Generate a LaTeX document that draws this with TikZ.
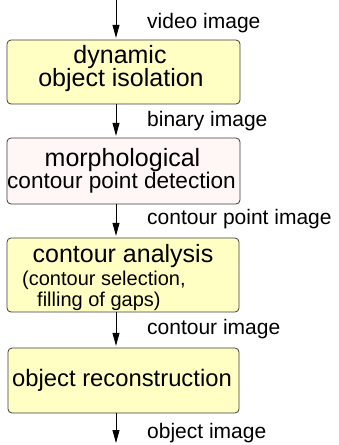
\documentclass[tikz,border=0pt]{standalone}
\usepackage{fontspec}
\setmainfont{Liberation Sans}
\usetikzlibrary{arrows.meta}
\definecolor{boxyellow}{RGB}{255,255,196}
\definecolor{boxpink}{RGB}{255,246,246}
\definecolor{boxline}{RGB}{60,60,60}
\tikzset{
  stagebox/.style={draw=boxline, line width=0.8pt, rounded corners=4pt},
  flowarrow/.style={-{Triangle[width=7pt,length=13pt]}, line width=0.8pt, shorten >=2pt},
  bigtext/.style={inner sep=0pt, anchor=base, font=\fontsize{25}{25}\selectfont},
  lbl/.style={inner sep=0pt, anchor=base west, font=\fontsize{21}{21}\selectfont},
  smalltext/.style={inner sep=0pt, anchor=base west, font=\fontsize{20}{20}\selectfont}
}
\begin{document}
\begin{tikzpicture}[x=1pt,y=-1pt]
\useasboundingbox (0,0) rectangle (339,445);
% boxes
\path[stagebox, fill=boxyellow] (7,40) rectangle (240,104);
\node[inner sep=0pt, minimum width=233pt, minimum height=64pt] (b1) at (123.5,72) {};
\path[stagebox, fill=boxpink] (7,138) rectangle (240,204);
\node[inner sep=0pt, minimum width=233pt, minimum height=66pt] (b2) at (123.5,171) {};
\path[stagebox, fill=boxyellow] (7,238) rectangle (239,312);
\node[inner sep=0pt, minimum width=232pt, minimum height=74pt] (b3) at (123,275) {};
\path[stagebox, fill=boxyellow] (8,348) rectangle (239,413);
\node[inner sep=0pt, minimum width=231pt, minimum height=65pt] (b4) at (123.5,380.5) {};
% texts
\node[bigtext] (t1a) at (120,63) {dynamic};
\node[bigtext] (t1b) at (121,86) {object isolation};
\node[bigtext] (t2a) at (122.5,166) {morphological};
\node[bigtext, font=\fontsize{22.6}{22.6}\selectfont] (t2b) at (121.5,188) {contour point detection};
\node[bigtext] (t3a) at (123,262) {contour analysis};
\node[smalltext] (t3b) at (22,285) {(contour selection,};
\node[smalltext] (t3c) at (37,306) {filling of gaps)};
\node[bigtext, font=\fontsize{23.8}{23.8}\selectfont] (t4) at (122,386) {object reconstruction};
% arrows
\coordinate (in) at (116,0);
\coordinate (out) at (116,443);
\draw[flowarrow] (in) -- (in |- b1.north);
\draw[flowarrow] (b1.south -| in) -- (b2.north -| in);
\draw[flowarrow] (b2.south -| in) -- (b3.north -| in);
\draw[flowarrow] (b3.south -| in) -- (b4.north -| in);
\draw[flowarrow, shorten >=0pt] (b4.south -| in) -- (out);
% labels
\node[lbl] (l1) at (147,28) {video image};
\node[lbl] (l2) at (147,126) {binary image};
\node[lbl] (l3) at (147,224) {contour point image};
\node[lbl] (l4) at (147,334) {contour image};
\node[lbl] (l5) at (147,438) {object image};
\end{tikzpicture}
\end{document}
